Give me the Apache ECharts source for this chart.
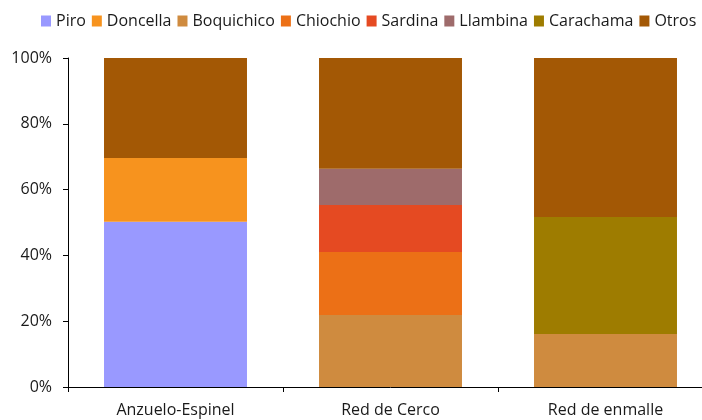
<!DOCTYPE html>
<html><head><meta charset="utf-8">
<script src="https://cdn.jsdelivr.net/npm/echarts@6/dist/echarts.min.js"></script>
<style>html,body{margin:0;padding:0;background:#fff;overflow:hidden;width:702px;height:420px}#c{width:713px;height:420px}</style>
</head><body><div id="c"></div>
<script>
const categories = ['Anzuelo-Espinel', 'Red de Cerco', 'Red de enmalle'];
const seriesNames = ['Piro','Doncella','Boquichico','Chiochio','Sardina','Llambina','Carachama','Otros'];
const piro = [50.2, null, null];
const doncella = [19.4, null, null];
const boquichico = [null, 21.9, 16.1];
const chiochio = [null, 19.1, null];
const sardina = [null, 14.3, null];
const llambina = [null, 11.0, null];
const carachama = [null, null, 35.6];
const otros = [30.4, 33.7, 48.3];
const yTicks = [0, 20, 40, 60, 80, 100];
const colors = ['#9999FF','#F7931E','#CF8B3F','#EC7016','#E54A22','#9E6B6B','#9E7C00','#A35805'];
const values = [piro, doncella, boquichico, chiochio, sardina, llambina, carachama, otros];

const chart = echarts.init(document.getElementById('c'));
const font = 'Open Sans';
chart.setOption({
  animation: false,
  color: colors,
  textStyle: {fontFamily: font},
  legend: {
    top: 8, left: 36, width: 675, itemWidth: 10, itemHeight: 11, itemGap: 6,
    icon: 'rect',
    textStyle: {fontSize: 16, color: '#1a1a1a', fontFamily: font},
    data: seriesNames
  },
  grid: {left: 68, right: 0, top: 58, height: 329},
  xAxis: {
    type: 'category', data: categories,
    axisLine: {lineStyle: {color: '#000', width: 1}},
    axisTick: {show: true, length: 5, lineStyle: {color: '#000'}},
    axisLabel: {fontSize: 16, color: '#1a1a1a', margin: 15, fontFamily: font}
  },
  yAxis: {
    type: 'value', min: yTicks[0], max: yTicks[yTicks.length-1], interval: 20,
    axisLine: {show: true, lineStyle: {color: '#000', width: 1}},
    axisTick: {show: true, length: 5, lineStyle: {color: '#000'}},
    splitLine: {show: false},
    axisLabel: {fontSize: 16, color: '#1a1a1a', margin: 16, formatter: '{value}%', fontFamily: font}
  },
  series: seriesNames.map((n, i) => ({
    name: n, type: 'bar', stack: 'total', data: values[i],
    barCategoryGap: '33.5%'
  }))
});
</script></body></html>
